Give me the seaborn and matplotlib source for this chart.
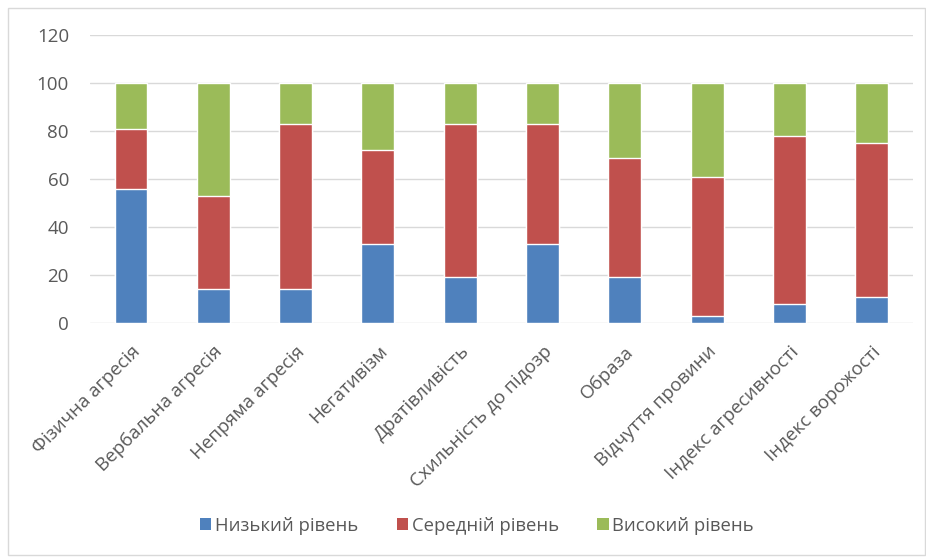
import numpy as np
import pandas as pd
import seaborn as sns
from matplotlib import pyplot as plt
from matplotlib.patches import Rectangle, Patch

categories = ['Фізична агресія', 'Вербальна агресія', 'Непряма агресія', 'Негативізм',
              'Дратівливість', 'Схильність до підозр', 'Образа', 'Відчуття провини',
              'Індекс агресивності', 'Індекс ворожості']
low = [56, 14, 14, 33, 19, 33, 19, 3, 8, 11]
mid = [25, 39, 69, 39, 64, 50, 50, 58, 70, 64]
high = [19, 47, 17, 28, 17, 17, 31, 39, 22, 25]
series = ['Низький рівень', 'Середній рівень', 'Високий рівень']
colors = ['#4F81BD', '#C0504D', '#9BBB59']

sns.set_theme(style='white')
plt.rcParams['font.family'] = ['Open Sans', 'DejaVu Sans']

df = pd.DataFrame({'cat': categories, 'low': low, 'mid': mid, 'high': high})
df['c_mid'] = df['low'] + df['mid']
df['c_high'] = df['c_mid'] + df['high']

fig = plt.figure(figsize=(9.26, 5.58), dpi=100)
ax = fig.add_axes([0.097, 0.421, 0.889, 0.516])

# stacked look: draw cumulative totals back to front
for col, c in zip(['c_high', 'c_mid', 'low'], colors[::-1]):
    sns.barplot(data=df, x='cat', y=col, color=c, width=0.4, saturation=1, ax=ax, zorder=3)

ax.set_ylim(0, 120)
ax.set_yticks(range(0, 121, 20))
ax.set_xlim(-0.5, len(categories) - 0.5)
ax.set_xlabel('')
ax.set_ylabel('')
ax.grid(axis='y', color='#d9d9d9', linewidth=1, zorder=0)
ax.set_axisbelow(True)
for s in ax.spines.values():
    s.set_visible(False)
ax.tick_params(axis='both', length=0, colors='#595959', labelsize=13.5)
ax.tick_params(axis='y', pad=15)
plt.setp(ax.get_xticklabels(), rotation=45, ha='right', rotation_mode='anchor')
ax.tick_params(axis='x', pad=14)

handles = [Patch(facecolor=c, edgecolor='none') for c in colors]
fig.legend(handles, series, loc='center', bbox_to_anchor=(0.515, 0.058), ncol=3, frameon=False,
           handlelength=0.6, handleheight=0.6, handletextpad=0.2, columnspacing=2.1,
           fontsize=13.3, labelcolor='#595959')

fig.patches.append(Rectangle((8 / 926, 3 / 558), 1 - 9 / 926, 1 - 11 / 558, transform=fig.transFigure,
                             fill=False, edgecolor='#d9d9d9', linewidth=1))

fig.savefig('out.png', dpi=100)
